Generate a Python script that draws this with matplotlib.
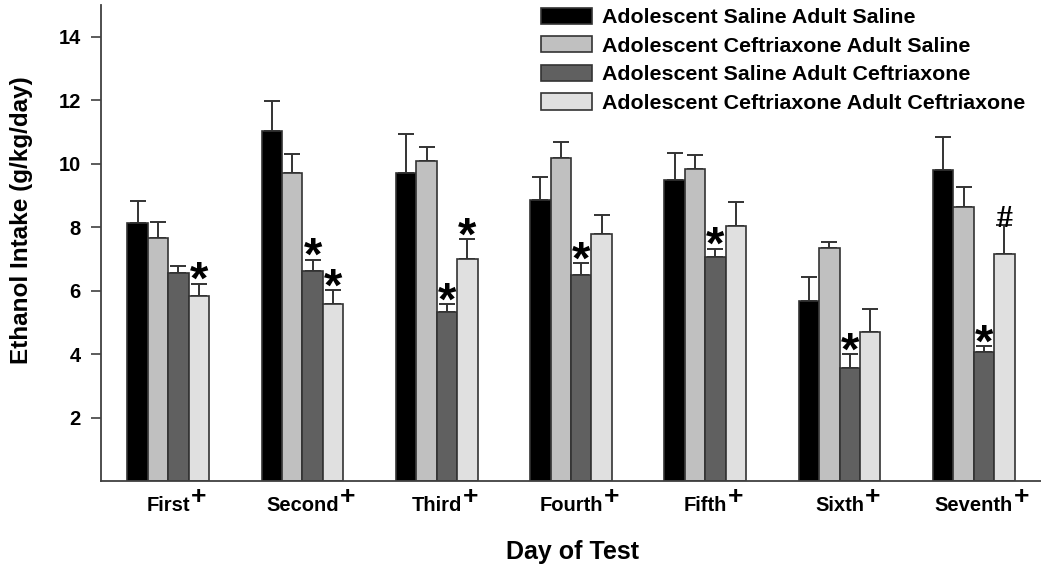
import matplotlib
matplotlib.use('Agg')
import matplotlib.pyplot as plt
import numpy as np

plt.rcParams['font.family'] = ['Liberation Sans', 'DejaVu Sans']
plt.rcParams['font.weight'] = 'bold'

# Days of testing
days = ['First', 'Second', 'Third', 'Fourth', 'Fifth', 'Sixth', 'Seventh']

# Mean ethanol intake (g/kg/day) and SEM for each treatment group
sal_sal = [8.12, 11.03, 9.72, 8.84, 9.47, 5.67, 9.80]
sal_sal_err = [0.71, 0.96, 1.23, 0.74, 0.87, 0.76, 1.04]

cef_sal = [7.66, 9.70, 10.07, 10.18, 9.82, 7.34, 8.62]
cef_sal_err = [0.49, 0.62, 0.47, 0.49, 0.45, 0.20, 0.64]

sal_cef = [6.54, 6.62, 5.34, 6.50, 7.06, 3.57, 4.08]
sal_cef_err = [0.24, 0.36, 0.23, 0.36, 0.26, 0.43, 0.17]

cef_cef = [5.83, 5.57, 7.01, 7.78, 8.05, 4.69, 7.14]
cef_cef_err = [0.39, 0.45, 0.61, 0.60, 0.74, 0.72, 0.93]

# Significance marks per group and day
sal_sal_marks = [''] * 7
cef_sal_marks = [''] * 7
sal_cef_marks = ['', '*', '*', '*', '*', '*', '*']
cef_cef_marks = ['*', '*', '*', '', '', '', '#']

labels = ['Adolescent Saline Adult Saline',
          'Adolescent Ceftriaxone Adult Saline',
          'Adolescent Saline Adult Ceftriaxone',
          'Adolescent Ceftriaxone Adult Ceftriaxone']
colors = ['#000000', '#c0c0c0', '#606060', '#e0e0e0']

series = [(sal_sal, sal_sal_err, sal_sal_marks),
          (cef_sal, cef_sal_err, cef_sal_marks),
          (sal_cef, sal_cef_err, sal_cef_marks),
          (cef_cef, cef_cef_err, cef_cef_marks)]

edge = '#333333'

fig = plt.figure(figsize=(10.41, 5.70), dpi=100)
ax = fig.add_axes([101 / 1041, 89 / 570, 940 / 1041, 476 / 570])

x = np.arange(len(days))
w = 0.152

for i, ((vals, errs, marks), color, label) in enumerate(zip(series, colors, labels)):
    pos = x + (i - 1.5) * w
    ax.errorbar(pos, vals, yerr=[np.zeros(len(vals)), errs], fmt='none',
                ecolor=edge, elinewidth=1.4, capsize=5.8, capthick=1.4, zorder=1)
    ax.bar(pos, vals, w, color=color, edgecolor=edge, linewidth=1.2,
           label=label, zorder=2)
    for j, m in enumerate(marks):
        top = vals[j] + errs[j]
        if m == '*':
            ax.annotate('*', xy=(pos[j], top), xytext=(0, -7.5),
                        textcoords='offset points', ha='center', va='baseline',
                        fontsize=34, fontweight='bold', zorder=3)
        elif m == '#':
            ax.annotate('#', xy=(pos[j], top), xytext=(0, -1.5),
                        textcoords='offset points', ha='center', va='baseline',
                        fontsize=23, fontweight='bold',
                        family=['Liberation Serif', 'DejaVu Serif'], zorder=3)

ax.set_xlim(-0.5, 6.5)
ax.set_ylim(0, 15)
ax.set_yticks([2, 4, 6, 8, 10, 12, 14])
ax.set_xticks(x)
ax.set_xticklabels(days, fontsize=14.5, fontweight='bold')

for s in ['top', 'right']:
    ax.spines[s].set_visible(False)
for s in ['left', 'bottom']:
    ax.spines[s].set_color('#404040')
    ax.spines[s].set_linewidth(1.3)

ax.tick_params(axis='x', length=0, pad=10.5)
ax.tick_params(axis='y', length=7.2, width=1.2, pad=7.2, labelsize=14.5,
               color='#404040')

# superscript plus after each day name
for lab in ax.get_xticklabels():
    ax.annotate('+', xy=(1, 1), xycoords=lab, xytext=(0.5, -1.0),
                textcoords='offset points', ha='left', va='center',
                fontsize=19, fontweight='bold')

ax.set_ylabel('Ethanol Intake (g/kg/day)', fontsize=17.5, fontweight='bold')
ax.yaxis.set_label_coords(-0.0723, 0.548)
ax.set_xlabel('Day of Test', fontsize=18, fontweight='bold')
ax.xaxis.set_label_coords(0.5016, -0.124)

ax.legend(loc='upper left', bbox_to_anchor=(541 / 1041, 1 - 7.5 / 570),
          bbox_transform=fig.transFigure, frameon=False, fontsize=15.4,
          handlelength=2.4, handleheight=0.8, handletextpad=0.45,
          labelspacing=0.42, borderpad=0, borderaxespad=0)

fig.savefig('out.png', dpi=100)
